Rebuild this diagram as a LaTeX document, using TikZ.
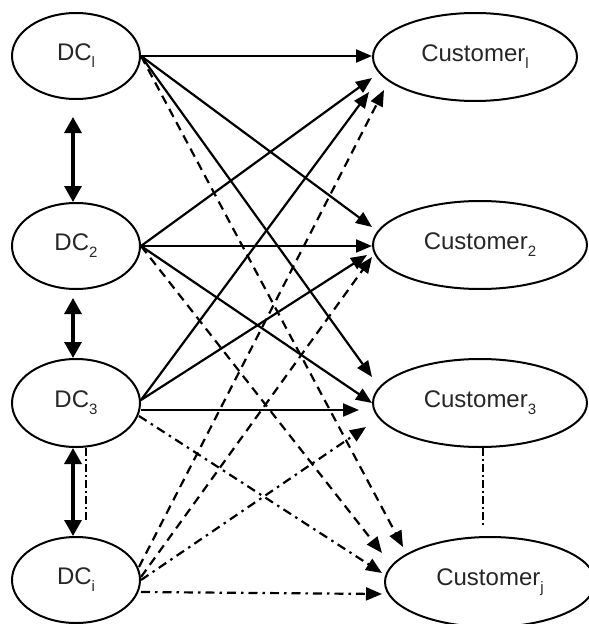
\documentclass[tikz,border=0pt]{standalone}
\usepackage{fontspec}
\setmainfont{Liberation Sans}
\usetikzlibrary{shapes.geometric,arrows.meta}
\newcommand{\sublbl}[2]{#1\raisebox{-7pt}{\fontsize{15}{15}\selectfont #2}}
\begin{document}
\begin{tikzpicture}[x=1pt,y=-1pt,
  ell/.style={ellipse,draw,line width=2pt,inner sep=0pt,font=\fontsize{24}{26}\selectfont,text=black!85},
  tipend/.style={-{Triangle[length=16pt,width=13pt]}},
  solidarr/.style={tipend,line width=2.2pt},
  dasharr/.style={tipend,line width=2.2pt,dash pattern=on 9pt off 6pt},
  ddarr/.style={tipend,line width=2.2pt,dash pattern=on 9pt off 5pt on 2.5pt off 5pt},
  dbl/.style={{Triangle[length=16pt,width=17pt]}-{Triangle[length=16pt,width=17pt]},line width=3.2pt},
  thindd/.style={line width=1.5pt,dash pattern=on 8pt off 3pt on 2pt off 3pt}]
\useasboundingbox (0,0) rectangle (589,624);

% DC nodes
\node[ell,minimum width=128pt,minimum height=86pt] (dc1) at (76,56) {\sublbl{DC}{l}};
\node[ell,minimum width=128pt,minimum height=86pt] (dc2) at (76,246) {\sublbl{DC}{2}};
\node[ell,minimum width=128pt,minimum height=88pt] (dc3) at (76,403) {\sublbl{DC}{3}};
\node[ell,minimum width=128pt,minimum height=86pt] (dci) at (76,580) {\sublbl{DC}{i}};

% Customer nodes
\node[ell,minimum width=204pt,minimum height=88pt] (cust1) at (475,57) {\sublbl{Customer}{l}};
\node[ell,minimum width=214pt,minimum height=88pt] (cust2) at (480,245) {\sublbl{Customer}{2}};
\node[ell,minimum width=214pt,minimum height=88pt] (cust3) at (480,403) {\sublbl{Customer}{3}};
\node[ell,minimum width=210pt,minimum height=90pt] (custj) at (490,582) {\sublbl{Customer}{j}};

% DC1 connectors
\draw[solidarr] (dc1.east) -- (dc1.east -| cust1.west);
\draw[solidarr] (dc1.east) -- ([yshift=18pt]cust2.west);
\draw[solidarr] (dc1.east) -- ([yshift=26pt]cust3.west);
\draw[dasharr] (dc1.east) -- ([xshift=19pt,yshift=35pt]custj.west);

% DC2 connectors
\draw[solidarr] (dc2.east) -- ([yshift=-21pt]cust1.west);
\draw[solidarr] (dc2.east) -- (dc2.east -| cust2.west);
\draw[solidarr] (dc2.east) -- (cust3.west);
\draw[dasharr] (dc2.east) -- ([xshift=-2pt,yshift=29pt]custj.west);

% DC3 connectors
\draw[solidarr] ([yshift=3pt]dc3.east) -- ([xshift=-3pt,yshift=-35pt]cust1.west);
\draw[solidarr] ([yshift=3pt]dc3.east) -- ([xshift=-5pt,yshift=-10pt]cust2.west);
\draw[solidarr] ([yshift=-7pt]dc3.east) -- ([xshift=-13pt,yshift=-7pt]cust3.west);
\draw[ddarr] ([xshift=-2pt,yshift=-13pt]dc3.east) -- ([xshift=-2pt,yshift=9pt]custj.west);

% DCi connectors
\draw[dasharr] ([xshift=-2pt,yshift=13pt]dci.east) -- ([xshift=12pt,yshift=-33pt]cust1.west);
\draw[dasharr] ([yshift=3pt]dci.east) -- ([yshift=-12pt]cust2.west);
\draw[ddarr] (dci.east) -- ([xshift=-6pt,yshift=-24pt]cust3.west);
\draw[ddarr] ([yshift=-12pt]dci.east) -- ([xshift=-2pt,yshift=-12pt]custj.west);

% double arrows between DCs
\draw[dbl] ([xshift=-3pt,yshift=-17pt]dc1.south) -- ([xshift=-3pt]dc2.north);
\draw[dbl] ([xshift=-3pt,yshift=-8pt]dc2.south) -- ([xshift=-3pt]dc3.north);
\draw[dbl] ([xshift=-3pt]dc3.south) -- ([xshift=-3pt]dci.north);

% dash-dot continuation lines
\coordinate (ddl) at ([xshift=10pt,yshift=15pt]dci.north);
\draw[thindd] ([xshift=10pt]dc3.south) -- (ddl);
\coordinate (ddr) at ([xshift=-7pt,yshift=9pt]custj.north);
\draw[thindd] ([xshift=3pt]cust3.south) -- (ddr);
\end{tikzpicture}
\end{document}
